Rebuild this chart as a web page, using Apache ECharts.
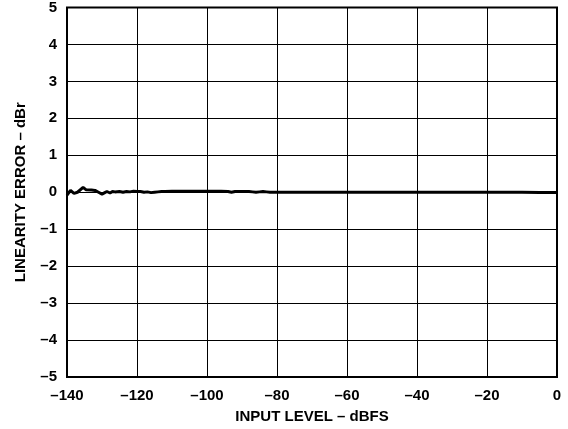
<!DOCTYPE html>
<html>
<head>
<meta charset="utf-8">
<script src="https://cdn.jsdelivr.net/npm/echarts@6/dist/echarts.min.js"></script>
<style>
  html, body { margin: 0; padding: 0; background: #fff; }
  #chart { width: 568px; height: 429px; }
</style>
</head>
<body>
<div id="chart"></div>
<script>
// input level (dBFS) and linearity error (dBr)
const inputLevel = [-140, -139, -138, -137, -136.6, -135.4, -134.6, -133, -132, -131, -130, -129.2,
  -128.6, -127.7, -127, -126.3, -125, -124, -123, -122, -121, -120, -119, -118, -117, -116, -115,
  -114, -113, -112, -110, -108, -106, -104, -102, -100, -98, -96, -94, -93, -92, -91, -90, -88,
  -87, -86, -85, -84, -83, -82, -80, -70, -60, -50, -40, -30, -20, -10, -5, 0];
const linError = [-0.08, 0.05, -0.03, 0.0, 0.04, 0.13, 0.07, 0.06, 0.05, 0.0, -0.05, -0.01,
  0.02, -0.02, 0.02, 0.01, 0.02, 0.0, 0.02, 0.01, 0.03, 0.02, 0.02, 0.0, 0.01, -0.01, 0.0,
  0.01, 0.02, 0.02, 0.03, 0.03, 0.03, 0.03, 0.03, 0.03, 0.03, 0.03, 0.02, 0.0, 0.02, 0.02, 0.02, 0.02,
  0.01, 0.0, 0.01, 0.02, 0.01, 0.0, 0.0, 0.0, 0.0, 0.0, 0.0, 0.0, 0.0, 0.0, -0.01, -0.01];

const fmt = (v) => String(v).replace('-', '\u2013');
const labelFont = { fontFamily: 'Liberation Sans', fontWeight: 'bold', fontSize: 15, color: '#000' };
const titleFont = { fontFamily: 'Liberation Sans', fontWeight: 'bold', fontSize: 15, color: '#000' };

const chart = echarts.init(document.getElementById('chart'));
chart.setOption({
  animation: false,
  backgroundColor: '#fff',
  grid: { left: 67, right: 11, top: 7, bottom: 52, show: true, borderColor: '#000', borderWidth: 2 },
  xAxis: {
    type: 'value', min: -140, max: 0, interval: 20,
    name: 'INPUT LEVEL \u2013 dBFS', nameLocation: 'middle', nameGap: 32,
    nameTextStyle: titleFont,
    axisLine: { show: false }, axisTick: { show: false },
    axisLabel: Object.assign({ margin: 11, formatter: fmt }, labelFont),
    splitLine: { lineStyle: { color: '#000', width: 1 } }
  },
  yAxis: {
    type: 'value', min: -5, max: 5, interval: 1,
    name: 'LINEARITY ERROR \u2013 dBr', nameLocation: 'middle', nameGap: 39,
    nameTextStyle: titleFont,
    axisLine: { show: false }, axisTick: { show: false },
    axisLabel: Object.assign({ margin: 10, formatter: fmt }, labelFont),
    splitLine: { lineStyle: { color: '#000', width: 1 } }
  },
  series: [{
    type: 'line',
    data: inputLevel.map((x, i) => [x, linError[i]]),
    showSymbol: false,
    lineStyle: { color: '#000', width: 3 }
  }]
});
</script>
</body>
</html>
